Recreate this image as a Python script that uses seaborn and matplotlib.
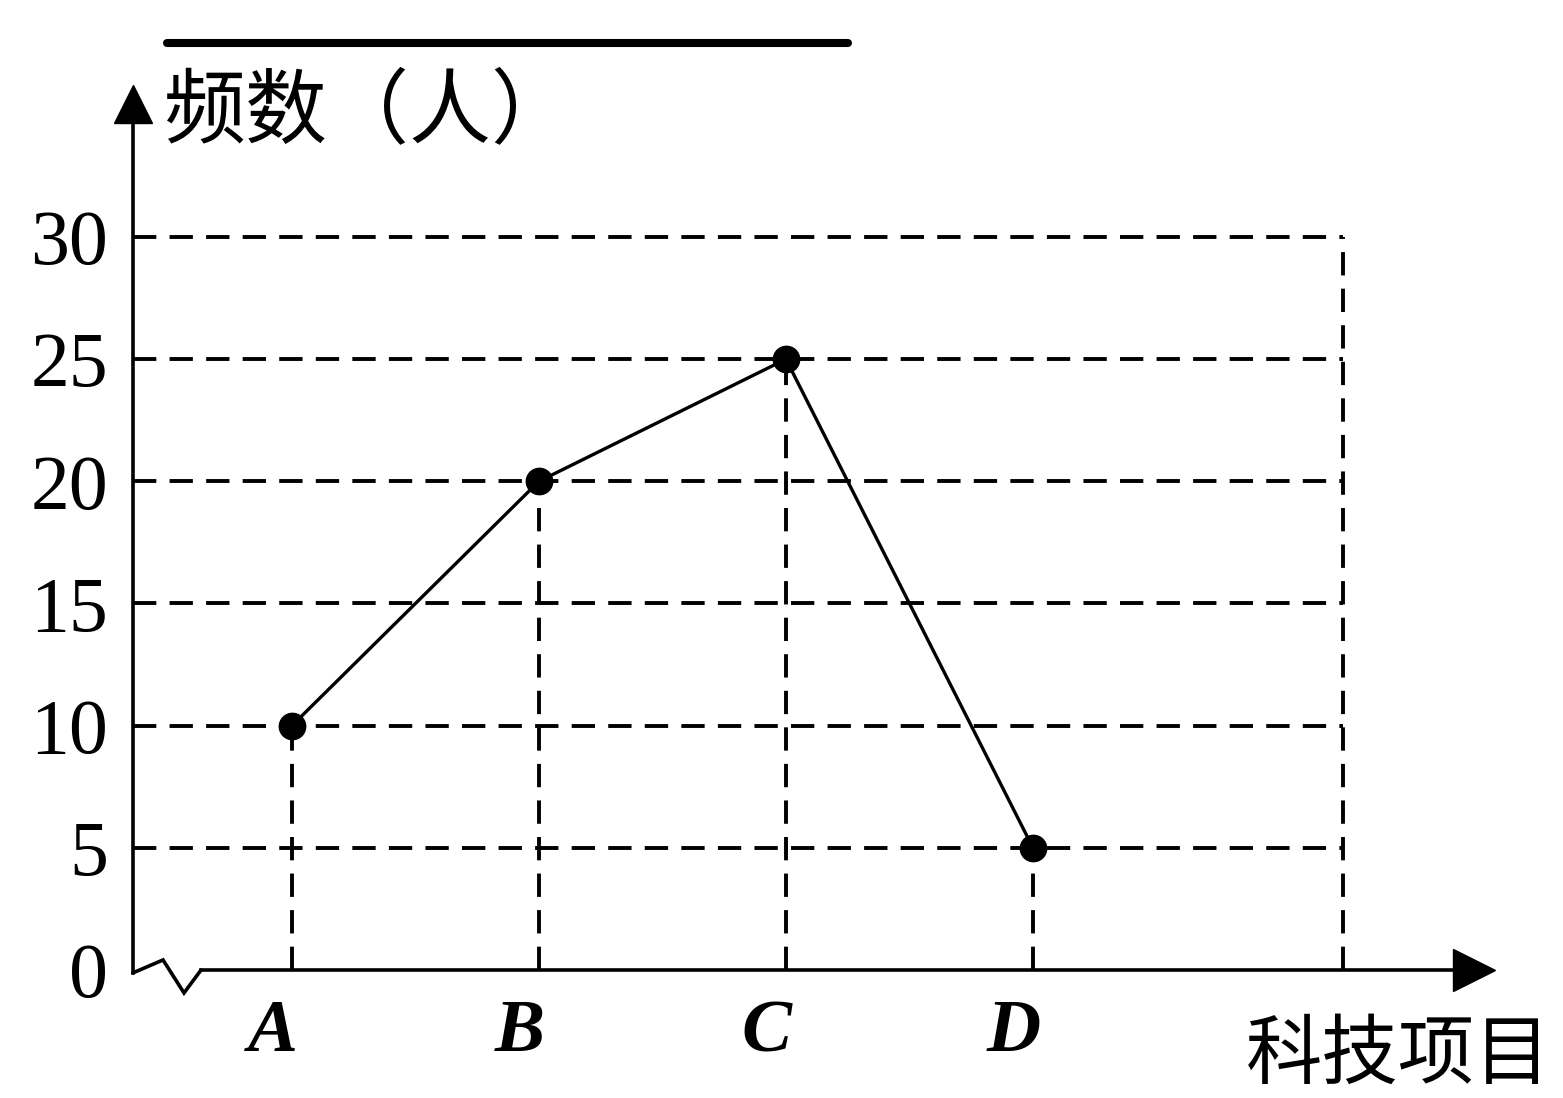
import numpy as np
import matplotlib
matplotlib.use("Agg")
import matplotlib.pyplot as plt
import matplotlib.transforms as mtransforms
import seaborn as sns

# data
projects = ["A", "B", "C", "D"]
freq = [10, 20, 25, 5]
y_ticks = [0, 5, 10, 15, 20, 25, 30]
y_label = "频数（人）"
x_label = "科技项目"

sns.set_theme(style="white")
plt.rcParams['font.family'] = ['Noto Sans CJK SC', 'DejaVu Sans']

fig = plt.figure(figsize=(15.63, 10.98), dpi=100)
ax = fig.add_axes([0, 0, 1, 1])
ax.set_xlim(-1.182, 5.146)
ax.set_ylim(-5.24, 39.7)

pos = np.arange(len(projects))
x0 = -0.644      # where the y axis sits
x_right = 4.255  # right edge of the dashed grid
top = y_ticks[-1]

dash = dict(color='black', linewidth=2.8, linestyles=(0, (6.0, 3.4)))
ax.hlines(y_ticks[1:], x0, x_right, **dash)
ax.vlines(pos, 0, freq, **dash)
ax.vlines(x_right, 0, top, **dash)

# the polyline
sns.lineplot(x=pos, y=freq, ax=ax, color='black', linewidth=2.4,
             marker='o', markersize=20, markeredgewidth=0, zorder=5)

# axes with arrows
for s in ['top', 'right']:
    ax.spines[s].set_visible(False)
ax.spines['left'].set_position(('data', x0))
ax.spines['left'].set_bounds(-0.12, 35.0)
ax.spines['bottom'].set_position(('data', 0))
ax.spines['bottom'].set_bounds(-0.368, 4.72)
for s in ['left', 'bottom']:
    ax.spines[s].set_color('black')
    ax.spines[s].set_linewidth(2.6)
ax.plot(x0, 35.45, marker='^', color='black', markersize=28, clip_on=False)
ax.plot(4.785, 0, marker='>', color='black', markersize=30, clip_on=False)

# broken-axis zigzag near the origin
zz_x = [x0, x0 + 0.122, x0 + 0.207, -0.368]
zz_y = [-0.12, 0.41, -0.94, 0]
ax.plot(zz_x, zz_y, color='black', linewidth=2.6, solid_joinstyle='miter')

ax.set_yticks(y_ticks)
ax.set_yticklabels([str(t) for t in y_ticks], family='Liberation Serif', fontsize=56)
ax.set_xticks(pos)
ax.set_xticklabels(projects, family='Liberation Serif', fontsize=54,
                   fontstyle='italic', fontweight='bold')
ax.tick_params(axis='y', length=0, pad=18, colors='black')
ax.tick_params(axis='x', length=0, pad=21, colors='black')
shift = mtransforms.ScaledTranslation(-14 / 72, 0, fig.dpi_scale_trans)
for lab in ax.get_xticklabels():
    lab.set_transform(lab.get_transform() + shift)

ax.text(-0.518, 35.05, y_label, fontsize=59, ha='left', va='center', color='black')
ax.text(3.862, -5.14, x_label, fontsize=55, ha='left', va='bottom', color='black')

# blank line above the chart
ax.axhline(37.95, xmin=0.107, xmax=0.5425, color='black', linewidth=5.8)

ax.grid(False)
fig.savefig('out.png', dpi=100, facecolor='white')
